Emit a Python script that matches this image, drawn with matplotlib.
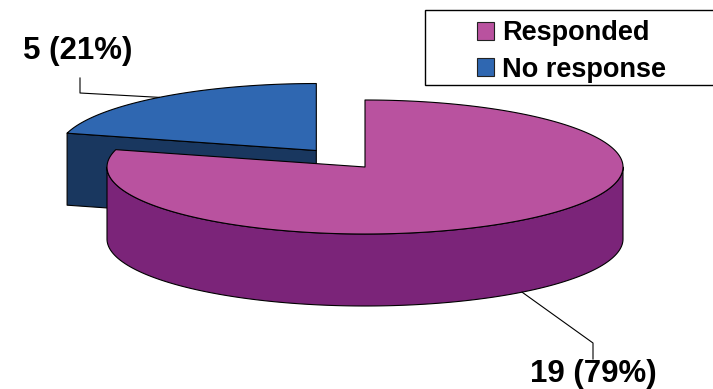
import numpy as np
import matplotlib
matplotlib.use("Agg")
import matplotlib.pyplot as plt
from matplotlib.patches import Polygon, Patch, Rectangle

plt.rcParams["font.family"] = ["Liberation Sans", "DejaVu Sans"]

# survey responses
labels = ["Responded", "No response"]
counts = [19, 5]
top_colors = ["#B9529F", "#2F67B1"]
side_colors = ["#7B2479", "#19375F"]
explode = [0.0, 0.31]

# where each value label sits (pixels, y down)
label_xy = [(593, 382), (78, 59)]

# 3D pie geometry in pixel units
CX, CY = 365, 167
RX, RY = 258, 67
DEPTH = 72
EDGE = dict(edgecolor="#000000", linewidth=0.8)

fig = plt.figure(figsize=(7.13, 3.89), dpi=100)
ax = fig.add_axes([0, 0, 1, 1])
ax.set_xlim(0, 713)
ax.set_ylim(389, 0)
ax.axis("off")


def rim(cx, cy, t):
    return cx + RX * np.cos(t), cy - RY * np.sin(t)


total = sum(counts)
wedges = []
start = 90.0
for i, n in enumerate(counts):
    end = start - 360.0 * n / total
    t1, t2 = np.radians(end), np.radians(start)
    mid = 0.5 * (t1 + t2)
    cx = CX + explode[i] * RX * np.cos(mid)
    cy = CY - explode[i] * RY * np.sin(mid)
    wedges.append(dict(i=i, t1=t1, t2=t2, mid=mid, cx=cx, cy=cy))
    start = end

# back slices first
wedges.sort(key=lambda w: -np.sin(w["mid"]))

for w in wedges:
    i, cx, cy = w["i"], w["cx"], w["cy"]
    t = np.linspace(w["t1"], w["t2"], 400)

    # cut faces that turn toward the viewer
    for ang, visible in ((w["t1"], np.cos(w["t1"]) > 1e-6),
                         (w["t2"], np.cos(w["t2"]) < -1e-6)):
        if not visible:
            continue
        ex, ey = rim(cx, cy, ang)
        face = [(cx, cy), (ex, ey), (ex, ey + DEPTH), (cx, cy + DEPTH)]
        ax.add_patch(Polygon(face, closed=True, facecolor=side_colors[i],
                             joinstyle="round", **EDGE))

    # outer wall along the front half of the rim
    front = np.sin(t) <= 0
    if front.any():
        idx = np.flatnonzero(front)
        runs = np.split(idx, np.flatnonzero(np.diff(idx) > 1) + 1)
        for r in runs:
            xs, ys = rim(cx, cy, t[r])
            pts = np.column_stack([np.r_[xs, xs[::-1]],
                                   np.r_[ys, ys[::-1] + DEPTH]])
            ax.add_patch(Polygon(pts, closed=True, facecolor=side_colors[i],
                                 joinstyle="round", **EDGE))

    # top face
    xs, ys = rim(cx, cy, t)
    pts = np.column_stack([np.r_[cx, xs], np.r_[cy, ys]])
    ax.add_patch(Polygon(pts, closed=True, facecolor=top_colors[i],
                         joinstyle="round", **EDGE))

    # value label with elbow leader
    ax_, ay_ = rim(cx, cy, w["mid"])
    if np.sin(w["mid"]) < 0:
        ay_ += DEPTH
    lx, ly = label_xy[i]
    pct = counts[i] / total
    if ly > ay_:
        ex, ey = lx, ly - 39
        path = [(ax_, ay_), (ex, ey), (ex, ey + 16)]
    else:
        ex, ey = lx + 2, ly + 34
        path = [(ax_, ay_), (ex, ey), (ex, ey - 15)]
    px, py = zip(*path)
    ax.plot(px, py, color="black", lw=0.8)
    ax.text(lx, ly, f"{counts[i]} ({pct:.0%})", ha="center", va="baseline",
            fontsize=22.5, fontweight="bold")

# legend
ax.add_patch(Rectangle((425, 10), 300, 75, facecolor="white",
                       edgecolor="black", linewidth=1.0, clip_on=False))
handles = [Patch(facecolor=c, edgecolor="#222222", linewidth=0.8, label=l)
           for c, l in zip(top_colors, labels)]
leg = ax.legend(handles=handles, loc="center left",
                bbox_to_anchor=(477 / 713, 1 - 51.5 / 389),
                frameon=False, borderpad=0, borderaxespad=0,
                handlelength=0.62, handleheight=0.62, handletextpad=0.32,
                labelspacing=0.38, prop=dict(size=19.5, weight="bold"))

fig.savefig("out.png", dpi=100)
